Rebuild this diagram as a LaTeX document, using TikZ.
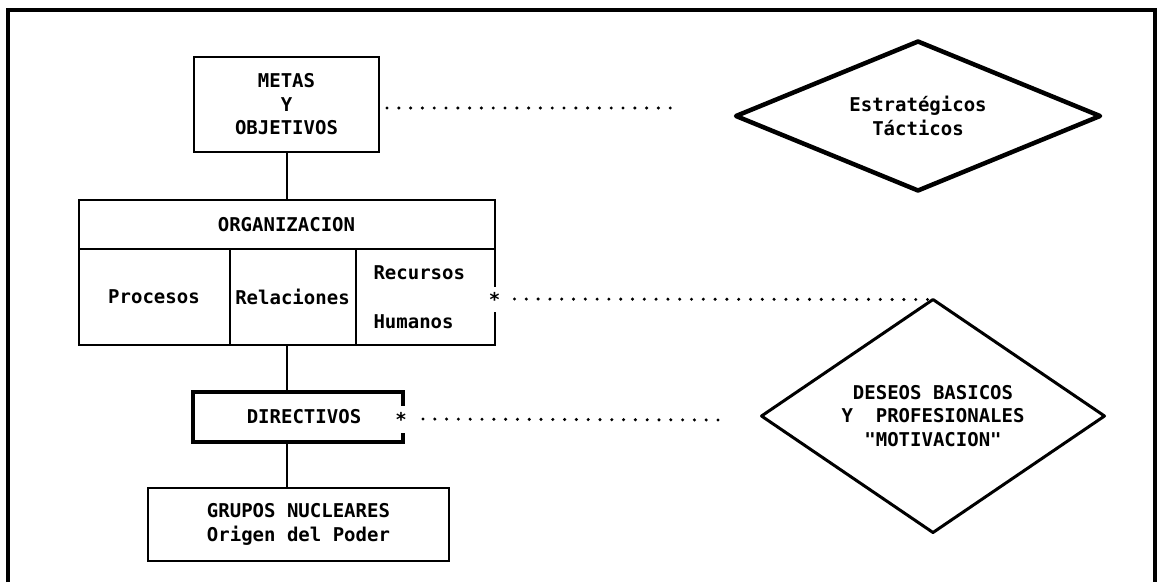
\documentclass[tikz,border=0pt]{standalone}
\usepackage{fontspec}
\newfontfamily\plotfont{DejaVu Sans Mono}
\usetikzlibrary{positioning, shapes.geometric}

\begin{document}
\begin{tikzpicture}[x=1pt, y=1pt,
    every node/.style={font=\plotfont\bfseries\fontsize{19}{23.5}\selectfont, outer sep=0pt, inner sep=0pt},
    box/.style={draw, line width=2pt, align=center},
    cell/.style={draw, line width=2pt, minimum height=96pt, align=center},
    rhombus/.style={diamond, draw, line join=round, align=center},
    dots/.style={line width=3.4pt, line cap=round, dash pattern=on 0pt off 11.8pt},
    link/.style={line width=2pt},
]
\useasboundingbox (0,0) rectangle (1161,-582);

% outer frame (bottom edge runs off the page)
\draw[line width=3.5pt] (8,-582) -- (8,-10) -- (1155,-10) -- (1155,-582);

\node[box, minimum width=185pt, minimum height=95pt] (metas) at (286.5,-104.5) {METAS\\Y\\OBJETIVOS};

% organizacion block
\node[box, minimum width=416pt, minimum height=49pt, below=48pt of metas] (org) {ORGANIZACION};
\node[cell, minimum width=151pt, anchor=north west] (procesos) at (org.south west) {Procesos};
\node[cell, minimum width=126pt, right=0pt of procesos] (relaciones) {Relaciones};
\node[cell, draw=none, minimum width=139pt, text width=103pt, inner xsep=18pt, align=left, right=0pt of relaciones] (recursos) {Recursos\\[25.5pt]Humanos};
\node[minimum height=25pt] (recstar) at ([yshift=-2pt]recursos.east) {*};
\draw[link] (recursos.south west) -- (recursos.south east) -- (recstar.south);
\draw[link] (recursos.north east) -- (recstar.north);

\draw[link] (metas) -- (org);

% directivos, thick box with a cut for the star
\node[minimum width=210pt, minimum height=50pt] (directivos) at (298,-417) {\hspace*{12pt}DIRECTIVOS};
\node[minimum height=27pt] (dirstar) at ([xshift=-2pt, yshift=-2pt]directivos.east) {*};
\draw[line width=4.5pt] (dirstar.north -| directivos.east) -- (directivos.north east) -- (directivos.north west)
    -- (directivos.south west) -- (directivos.south east) -- (dirstar.south -| directivos.east);
\draw[link] (org.south |- procesos.south) -- (org.south |- directivos.north);

\node[box, minimum width=301pt, minimum height=73pt] (grupos) at (298.5,-524.5) {GRUPOS NUCLEARES\\Origen del Poder};
\draw[link] (org.south |- directivos.south) -- (org.south |- grupos.north);

% diamonds on the right
\node[rhombus, line width=4.5pt, minimum width=364pt, minimum height=149pt, aspect=2.4] (estrat) at (918,-116) {Estratégicos\\Tácticos};
\node[rhombus, line width=3pt, minimum width=343pt, minimum height=233pt, aspect=1.47] (deseos) at (933,-416)
    {DESEOS BASICOS\\Y~~PROFESIONALES\\\textquotedbl MOTIVACION\textquotedbl};

% dotted links
\coordinate (dotend1) at (671,-108);
\coordinate (dotend2) at (718,-420);
\draw[dots] ([xshift=8pt, yshift=-3.5pt]metas.east) -- (dotend1);
\draw[dots] ([xshift=20pt]recstar.center) -- (deseos.north);
\draw[dots] ([xshift=22pt]dirstar.center) -- (dotend2);

\end{tikzpicture}
\end{document}
